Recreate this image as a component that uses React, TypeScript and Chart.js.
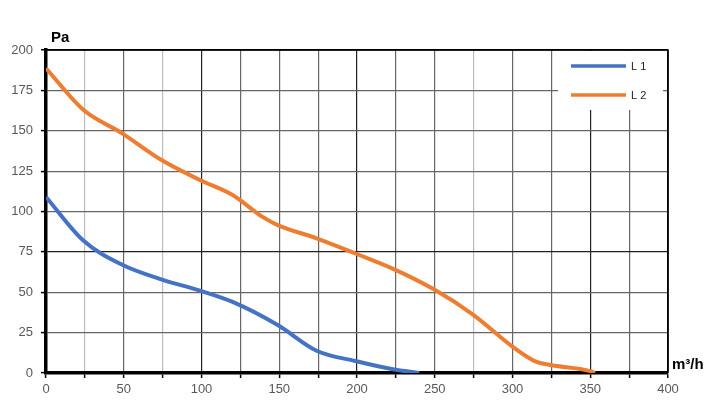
import React, { useEffect, useRef } from "react";
import { Chart, registerables } from "chart.js";

Chart.register(...registerables);

const L1_X = [0, 24, 49, 74, 99, 120, 149, 174, 199, 223, 240];
const L1_Y = [109, 82, 67, 58, 51, 44, 29.7, 13.8, 7.4, 2.3, 0];
const L2_X = [0, 24, 49, 74, 99, 120, 139, 149, 174, 199, 224, 250, 275, 300, 315, 324, 350, 353];
const L2_Y = [188.7, 163, 148.4, 132, 119.5, 110.2, 96.8, 91.6, 83.4, 74, 64.2, 51.5, 35.9, 16.3, 7, 5, 1.2, 0];
const SERIES_LABELS = ["L 1", "L 2"];
const SERIES_COLORS = ["#4472C4", "#ED7D31"];
const X_TITLE = "m³/h";
const Y_TITLE = "Pa";

const FONT = "'Liberation Sans', Arial, sans-serif";

function xGridColor(v: number): string {
  if (v === 400) return "#000";
  if (v === 25 || v === 75 || v === 275) return "#bdbdbd";
  if (v === 100 || v === 200 || v === 350) return "#222";
  return "#666";
}
function yGridColor(v: number): string {
  if (v === 200) return "#000";
  if (v === 75) return "#222";
  return "#666";
}

const decorPlugin = {
  id: "decor",
  afterDraw(chart: any) {
    const { ctx, chartArea } = chart;
    const { left, top, right, bottom } = chartArea;
    ctx.save();
    // legend box
    const lx = 558, ly = 51, lw = 105, lh = 59;
    ctx.fillStyle = "#fff";
    ctx.fillRect(lx, ly, lw, lh);
    chart.data.datasets.forEach((ds: any, i: number) => {
      const yy = 66 + i * 29;
      ctx.strokeStyle = ds.borderColor;
      ctx.lineWidth = 3.5;
      ctx.lineCap = "butt";
      ctx.beginPath();
      ctx.moveTo(571, yy);
      ctx.lineTo(626, yy);
      ctx.stroke();
      ctx.fillStyle = "#222";
      ctx.font = `11px ${FONT}`;
      ctx.textAlign = "left";
      ctx.textBaseline = "middle";
      ctx.fillText(ds.label, 631, yy + 0.5);
    });
    // top & right border
    ctx.strokeStyle = "#000";
    ctx.lineWidth = 1.5;
    ctx.beginPath();
    ctx.moveTo(left, top);
    ctx.lineTo(right, top);
    ctx.lineTo(right, bottom);
    ctx.stroke();
    // titles
    ctx.fillStyle = "#000";
    ctx.font = `bold 15px ${FONT}`;
    ctx.textAlign = "left";
    ctx.textBaseline = "alphabetic";
    ctx.fillText(Y_TITLE, 51, 42);
    ctx.fillText(X_TITLE, 672, 369);
    ctx.restore();
  },
};

export default function App() {
  const ref = useRef<HTMLCanvasElement>(null);
  useEffect(() => {
    document.body.style.margin = "0";
    const chart = new Chart(ref.current!, {
      type: "line",
      data: {
        datasets: [
          {
            label: SERIES_LABELS[0],
            data: L1_X.map((x, i) => ({ x, y: L1_Y[i] })),
            borderColor: SERIES_COLORS[0],
            borderWidth: 4,
            pointRadius: 0,
            cubicInterpolationMode: "monotone",
          },
          {
            label: SERIES_LABELS[1],
            data: L2_X.map((x, i) => ({ x, y: L2_Y[i] })),
            borderColor: SERIES_COLORS[1],
            borderWidth: 4,
            pointRadius: 0,
            cubicInterpolationMode: "monotone",
          },
        ],
      },
      options: {
        animation: false,
        responsive: false,
        devicePixelRatio: 1,
        layout: { padding: { left: 0, top: 50, right: 54, bottom: 0 } },
        plugins: { legend: { display: false }, tooltip: { enabled: false } },
        scales: {
          x: {
            type: "linear",
            min: 0,
            max: 400,
            afterFit: (s: any) => { s.height = 44; },
            ticks: {
              stepSize: 25,
              padding: 4,
              color: "#595959",
              font: { family: FONT, size: 13 },
              callback: (v: any) => (Number(v) % 50 === 0 ? String(v) : ""),
              maxRotation: 0,
              autoSkip: false,
            },
            grid: {
              color: (c: any) => xGridColor(c.tick ? c.tick.value : 0),
              lineWidth: (c: any) => (c.tick && c.tick.value === 400 ? 1.5 : 1.2),
              tickColor: "#000",
              tickLength: 5,
              tickWidth: 1.5,
            },
            border: { display: true, color: "#000", width: 3.5 },
          },
          y: {
            type: "linear",
            min: 0,
            max: 200,
            afterFit: (s: any) => { s.width = 46; },
            ticks: {
              stepSize: 25,
              padding: 8,
              color: "#595959",
              font: { family: FONT, size: 13 },
            },
            grid: {
              color: (c: any) => yGridColor(c.tick ? c.tick.value : 0),
              lineWidth: (c: any) => (c.tick && c.tick.value === 200 ? 1.5 : 1.2),
              tickColor: "#000",
              tickLength: 5,
              tickWidth: 1.5,
            },
            border: { display: true, color: "#000", width: 3.5 },
          },
        },
      },
      plugins: [decorPlugin],
    } as any);
    return () => chart.destroy();
  }, []);
  return (
    <div style={{ width: 722, height: 417 }}>
      <canvas ref={ref} width={722} height={417} style={{ display: "block" }} />
    </div>
  );
}
